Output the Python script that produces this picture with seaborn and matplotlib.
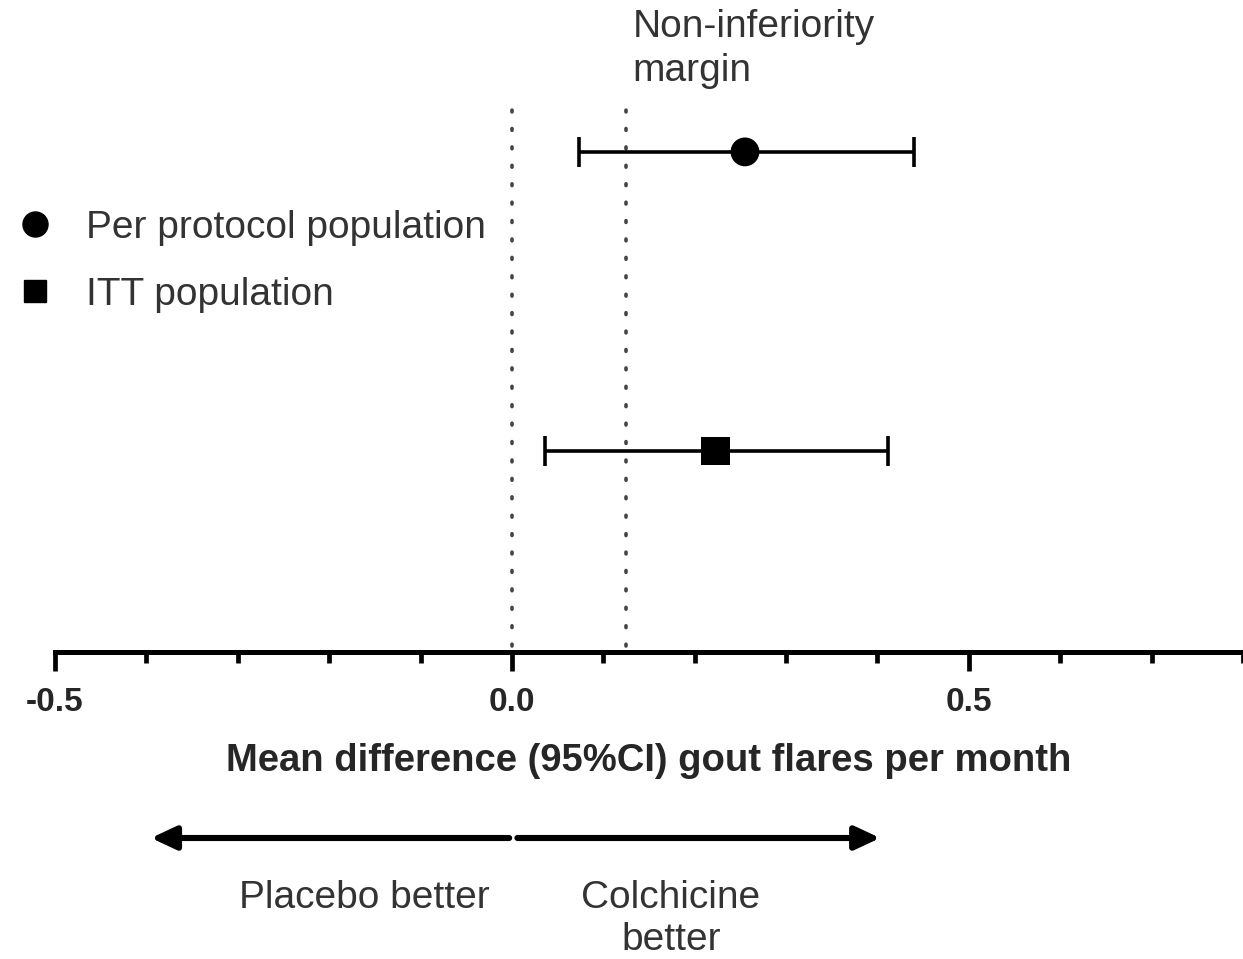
import pandas as pd
import numpy as np
import matplotlib.pyplot as plt
import seaborn as sns
from matplotlib.lines import Line2D
from matplotlib.ticker import MultipleLocator

# data
populations = ['Per protocol population', 'ITT population']
mean_diff = [0.255, 0.223]
ci_low = [0.073, 0.036]
ci_high = [0.44, 0.411]
margin = 0.125
x_ticks = [-0.5, 0.0, 0.5]
x_tick_labels = ['-0.5', '0.0', '0.5']

sns.set_style('white')
plt.rcParams['font.family'] = ['Liberation Sans', 'DejaVu Sans']

df = pd.DataFrame({'population': populations, 'diff': mean_diff,
                   'low': ci_low, 'high': ci_high})
df['row'] = [0.906, 0.364]  # vertical slot for each population

fig = plt.figure(figsize=(12.43, 9.59), dpi=100)
ax = fig.add_axes([55 / 1243, 1 - 652 / 959, 1 - 55 / 1243, 552 / 959])

# confidence intervals
ax.errorbar(df['diff'], df['row'],
            xerr=[df['diff'] - df['low'], df['high'] - df['diff']],
            fmt='none', ecolor='black', elinewidth=2.6, capsize=11,
            capthick=2.6, zorder=2)

markers = {'Per protocol population': 'o', 'ITT population': 's'}
sns.scatterplot(data=df, x='diff', y='row', style='population', markers=markers,
                color='black', s=430, edgecolor='black', linewidth=0,
                legend=False, ax=ax, zorder=3)

# reference lines: zero and non-inferiority margin
for xv in [0.0, margin]:
    ax.axvline(xv, ymin=0.01, ymax=0.99, color='#444444', lw=2.6,
               linestyle=(0, (0.5, 4.6)), dash_capstyle='round', zorder=1)

ax.set_xlim(-0.5, 0.8)
ax.set_ylim(0, 1)
ax.set_yticks([])
ax.set_ylabel('')
ax.set_xticks(x_ticks)
ax.set_xticklabels(x_tick_labels, fontsize=24, fontweight='bold')
ax.xaxis.set_minor_locator(MultipleLocator(0.1))
ax.tick_params(axis='x', which='major', direction='out', length=14, width=3.4,
               color='black', pad=11, bottom=True)
ax.tick_params(axis='x', which='minor', direction='out', length=8, width=3.4,
               color='black', bottom=True)
for side in ['left', 'top', 'right']:
    ax.spines[side].set_visible(False)
ax.spines['bottom'].set_linewidth(3.6)
ax.spines['bottom'].set_color('black')
ax.set_xlabel('Mean difference (95%CI) gout flares per month', fontsize=27.5,
              fontweight='bold', labelpad=18)

trans = ax.get_xaxis_transform()
ax.text(margin + 0.007, 1 - 49 / 959, 'Non-inferiority\nmargin', fontsize=28,
        color='#333333', ha='left', va='center', linespacing=1.3,
        transform=ax.get_xaxis_transform().__class__(ax.transData, fig.transFigure))

# legend
handles = [Line2D([], [], marker=markers[p], color='black', linestyle='none',
                  markersize=18 if p.startswith('Per') else 16)
           for p in populations]
fig.legend(handles, populations, loc='upper left',
           bbox_to_anchor=(0.0, 1 - 194 / 959), frameon=False, fontsize=28,
           labelcolor='#333333', handletextpad=0.8, labelspacing=0.8,
           handlelength=1.0, borderaxespad=0.0)

# direction arrows below the axis
arrow_y = -(838 - 652) / 552
arrow_style = '-|>,head_length=1.5,head_width=0.7'
ax.annotate('', xy=(-0.395, arrow_y), xytext=(-0.003, arrow_y), xycoords=trans,
            arrowprops=dict(arrowstyle=arrow_style, color='black', lw=4.4,
                            shrinkA=0, shrinkB=0),
            annotation_clip=False)
ax.annotate('', xy=(0.403, arrow_y), xytext=(0.006, arrow_y), xycoords=trans,
            arrowprops=dict(arrowstyle=arrow_style, color='black', lw=4.4,
                            shrinkA=0, shrinkB=0),
            annotation_clip=False)
ax.text(-0.162, -(898 - 652) / 552, 'Placebo better', fontsize=28,
        color='#333333', ha='center', va='center', transform=trans)
ax.text(0.174, -(919 - 652) / 552, 'Colchicine\nbetter', fontsize=28,
        color='#333333', ha='center', va='center', linespacing=1.2,
        transform=trans)

fig.savefig('out.png', dpi=100)
